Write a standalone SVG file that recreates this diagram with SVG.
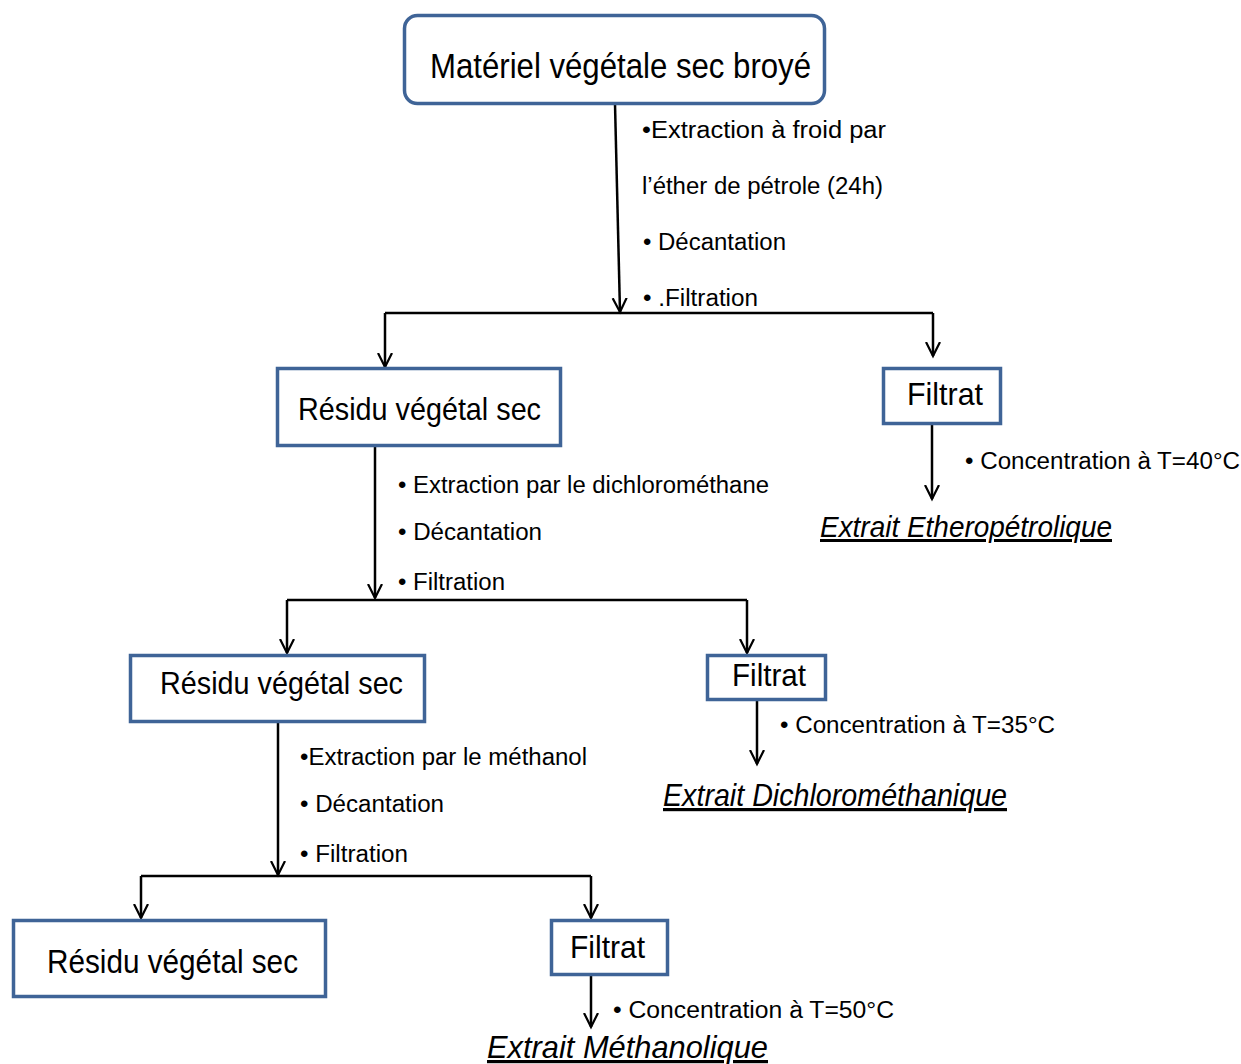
<svg xmlns="http://www.w3.org/2000/svg" width="1241" height="1064" viewBox="0 0 1241 1064">
<style>
.box{fill:#fff;stroke:#3F6497;stroke-width:3.5}
.t{font-family:"Liberation Sans",Arial,sans-serif;fill:#000}
.ln{fill:none;stroke:#000;stroke-width:2.5}
.ext{font-family:"Liberation Sans",Arial,sans-serif;font-style:italic;text-decoration:underline;fill:#000}
</style>
<defs>
<marker id="arr" markerUnits="userSpaceOnUse" markerWidth="20" markerHeight="20" refX="14" refY="8" orient="auto">
<path d="M0,1 L14,8 L0,15" fill="none" stroke="#000" stroke-width="2.2"/>
</marker>
</defs>
<rect width="1241" height="1064" fill="#fff"/>
<g id="connectors">
<path class="ln" d="M615,104 L620,312" marker-end="url(#arr)"/>
<path class="ln" d="M385,313 L933,313"/>
<path class="ln" d="M385,313 L385,367" marker-end="url(#arr)"/>
<path class="ln" d="M933,313 L933,356" marker-end="url(#arr)"/>
<path class="ln" d="M932,424 L932,499" marker-end="url(#arr)"/>
<path class="ln" d="M375,446 L375,598" marker-end="url(#arr)"/>
<path class="ln" d="M287,600 L747,600"/>
<path class="ln" d="M287,600 L287,653" marker-end="url(#arr)"/>
<path class="ln" d="M747,600 L747,653" marker-end="url(#arr)"/>
<path class="ln" d="M757,700 L757,764" marker-end="url(#arr)"/>
<path class="ln" d="M278,722 L278,875" marker-end="url(#arr)"/>
<path class="ln" d="M141,876 L591,876"/>
<path class="ln" d="M141,876 L141,918" marker-end="url(#arr)"/>
<path class="ln" d="M591,876 L591,918" marker-end="url(#arr)"/>
<path class="ln" d="M591,975 L591,1027" marker-end="url(#arr)"/>
</g>
<g id="n-top">
<rect class="box" x="404.5" y="15.5" width="420" height="88" rx="13"/>
<text class="t" x="430" y="78" font-size="35" textLength="381" lengthAdjust="spacingAndGlyphs">Matériel végétale sec broyé</text>
</g>
<g id="step1">
<text class="t" x="642" y="138" font-size="23" textLength="244" lengthAdjust="spacingAndGlyphs">•Extraction  à froid  par</text>
<text class="t" x="642" y="194" font-size="23" textLength="241" lengthAdjust="spacingAndGlyphs">l’éther de pétrole (24h)</text>
<text class="t" x="643" y="250" font-size="23" textLength="143" lengthAdjust="spacingAndGlyphs">• Décantation</text>
<text class="t" x="643" y="306" font-size="23" textLength="115" lengthAdjust="spacingAndGlyphs">• .Filtration</text>
</g>
<g id="n-res1">
<rect class="box" x="277.5" y="368.5" width="283" height="77"/>
<text class="t" x="298" y="420" font-size="32" textLength="243" lengthAdjust="spacingAndGlyphs">Résidu végétal sec</text>
</g>
<g id="n-fil1">
<rect class="box" x="883.5" y="368.5" width="117" height="55"/>
<text class="t" x="907" y="405" font-size="32" textLength="76" lengthAdjust="spacingAndGlyphs">Filtrat</text>
</g>
<g id="conc1">
<text class="t" x="965" y="469" font-size="23" textLength="275" lengthAdjust="spacingAndGlyphs">• Concentration à T=40°C</text>
</g>
<g id="n-ext1">
<text class="ext" x="820" y="537" font-size="30" textLength="292" lengthAdjust="spacingAndGlyphs">Extrait Etheropétrolique</text>
</g>
<g id="step2">
<text class="t" x="398" y="493" font-size="23" textLength="371" lengthAdjust="spacingAndGlyphs">• Extraction par le dichlorométhane</text>
<text class="t" x="398" y="540" font-size="23" textLength="144" lengthAdjust="spacingAndGlyphs">• Décantation</text>
<text class="t" x="398" y="590" font-size="23" textLength="107" lengthAdjust="spacingAndGlyphs">• Filtration</text>
</g>
<g id="n-res2">
<rect class="box" x="130.5" y="655.5" width="294" height="66"/>
<text class="t" x="160" y="694" font-size="32" textLength="243" lengthAdjust="spacingAndGlyphs">Résidu végétal sec</text>
</g>
<g id="n-fil2">
<rect class="box" x="707.5" y="655.5" width="118" height="44"/>
<text class="t" x="732" y="686" font-size="32" textLength="74" lengthAdjust="spacingAndGlyphs">Filtrat</text>
</g>
<g id="conc2">
<text class="t" x="780" y="733" font-size="23" textLength="275" lengthAdjust="spacingAndGlyphs">• Concentration à T=35°C</text>
</g>
<g id="n-ext2">
<text class="ext" x="663" y="806" font-size="32" textLength="344" lengthAdjust="spacingAndGlyphs">Extrait Dichlorométhanique</text>
</g>
<g id="step3">
<text class="t" x="300" y="765" font-size="23" textLength="287" lengthAdjust="spacingAndGlyphs">•Extraction par le méthanol</text>
<text class="t" x="300" y="812" font-size="23" textLength="144" lengthAdjust="spacingAndGlyphs">• Décantation</text>
<text class="t" x="300" y="862" font-size="23" textLength="108" lengthAdjust="spacingAndGlyphs">• Filtration</text>
</g>
<g id="n-res3">
<rect class="box" x="13.5" y="920.5" width="312" height="76"/>
<text class="t" x="47" y="973" font-size="33" textLength="251" lengthAdjust="spacingAndGlyphs">Résidu végétal sec</text>
</g>
<g id="n-fil3">
<rect class="box" x="551.5" y="920.5" width="116" height="54"/>
<text class="t" x="570" y="958" font-size="32" textLength="75" lengthAdjust="spacingAndGlyphs">Filtrat</text>
</g>
<g id="conc3">
<text class="t" x="613" y="1018" font-size="23" textLength="281" lengthAdjust="spacingAndGlyphs">• Concentration à T=50°C</text>
</g>
<g id="n-ext3">
<text class="ext" x="487" y="1058" font-size="32" textLength="281" lengthAdjust="spacingAndGlyphs">Extrait Méthanolique</text>
</g>
</svg>
